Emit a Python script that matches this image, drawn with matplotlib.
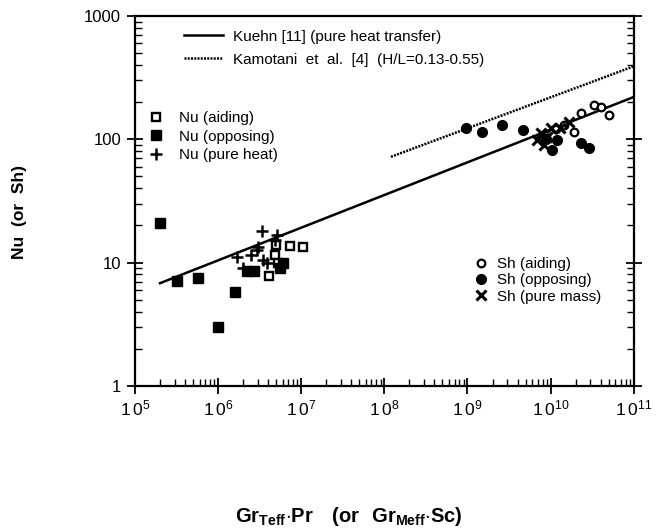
import numpy as np
import matplotlib.pyplot as plt
from matplotlib.ticker import FixedLocator, LogLocator, NullFormatter

plt.rcParams['font.family'] = ['Liberation Sans', 'DejaVu Sans']
plt.rcParams['mathtext.fontset'] = 'custom'
plt.rcParams['mathtext.rm'] = 'Liberation Sans:bold'
plt.rcParams['mathtext.sf'] = 'Liberation Sans'

# correlations (end points)
kuehn_x = [2.0e5, 1.0e11]
kuehn_y = [6.8, 220]
kamo_x = [1.2e8, 1.0e11]
kamo_y = [72, 390]

# heat transfer data
nu_aid_x = [4.1e6, 4.9e6, 5.0e6, 7.4e6, 1.05e7, 5.2e6]
nu_aid_y = [7.8, 11.5, 13.9, 13.6, 13.4, 10.0]
nu_opp_x = [2.0e5, 3.2e5, 5.7e5, 1.0e6, 1.6e6, 2.2e6, 2.7e6, 6.0e6, 5.6e6]
nu_opp_y = [21, 7.1, 7.5, 3.0, 5.8, 8.6, 8.6, 10.0, 9.1]
nu_heat_x = [3.4e6, 1.7e6, 2.95e6, 3.0e6, 3.5e6, 3.9e6, 5.1e6, 4.9e6, 2.5e6, 2.0e6]
nu_heat_y = [18, 11.1, 12.6, 13.4, 10.5, 10.0, 16.8, 15.2, 11.5, 9.1]

# mass transfer data
sh_aid_x = [3.3e10, 4.0e10, 5.0e10, 2.3e10, 1.9e10, 1.45e10, 1.15e10]
sh_aid_y = [190, 182, 158, 163, 115, 131, 120]
sh_opp_x = [9.5e8, 1.5e9, 2.6e9, 4.6e9, 1.05e10, 2.3e10, 2.9e10, 1.2e10, 8.7e9]
sh_opp_y = [124, 115, 131, 119, 82, 93, 85, 99, 100]
sh_mass_x = [6.9e9, 7.6e9, 8.3e9, 9.1e9, 1.3e10, 1.65e10, 1.0e10]
sh_mass_y = [99, 113, 90, 105, 124, 138, 124]

xt_exp = [5, 6, 7, 8, 9, 10, 11]
yt_vals = [1, 10, 100, 1000]

fig = plt.figure(figsize=(6.65, 5.30), dpi=100)
ax = fig.add_axes([0.203, 0.272, 0.750, 0.698])

l1, = ax.plot(kuehn_x, kuehn_y, color='black', lw=1.8)
l2, = ax.plot(kamo_x, kamo_y, color='black', lw=1.8, ls=(0, (0.8, 0.5)))

h_na, = ax.plot(nu_aid_x, nu_aid_y, 's', ms=6, mfc='white', mec='black', mew=1.7, ls='none')
h_no, = ax.plot(nu_opp_x, nu_opp_y, 's', ms=6.5, color='black', ls='none')
h_nh, = ax.plot(nu_heat_x, nu_heat_y, '+', ms=9, color='black', mew=1.8, ls='none')
h_sa, = ax.plot(sh_aid_x, sh_aid_y, 'o', ms=5.5, mfc='white', mec='black', mew=1.6, ls='none')
h_so, = ax.plot(sh_opp_x, sh_opp_y, 'o', ms=7, color='black', ls='none')
h_sm, = ax.plot(sh_mass_x, sh_mass_y, 'x', ms=7, color='black', mew=2.2, ls='none')

ax.set_xscale('log')
ax.set_yscale('log')
ax.set_xlim(1e5, 1e11)
ax.set_ylim(1, 1000)

ax.xaxis.set_major_locator(FixedLocator([10.0**k for k in xt_exp]))
ax.set_xticklabels([r'$\mathsf{1\,0^{%d}}$' % k for k in xt_exp], fontsize=12.5)
ax.xaxis.set_minor_locator(LogLocator(base=10, subs=np.arange(2, 10), numticks=20))
ax.xaxis.set_minor_formatter(NullFormatter())
ax.yaxis.set_major_locator(FixedLocator(yt_vals))
ax.set_yticklabels([str(v) for v in yt_vals], fontsize=12)
ax.yaxis.set_minor_locator(LogLocator(base=10, subs=np.arange(2, 10), numticks=20))
ax.yaxis.set_minor_formatter(NullFormatter())

ax.tick_params(which='major', direction='inout', length=12, width=1.3, right=True)
ax.tick_params(which='minor', direction='in', length=5, width=1.0, right=True)
ax.tick_params(axis='x', which='major', pad=3)
ax.tick_params(axis='y', which='major', pad=4)
for s in ax.spines.values():
    s.set_linewidth(1.6)

lg1 = ax.legend([l1, l2], ['Kuehn [11] (pure heat transfer)',
                           'Kamotani  et  al.  [4]  (H/L=0.13-0.55)'],
                loc='upper left', bbox_to_anchor=(0.07, 1.0), frameon=False,
                fontsize=11, handlelength=2.6, handletextpad=0.6, labelspacing=0.6)
ax.add_artist(lg1)
lg2 = ax.legend([h_na, h_no, h_nh], ['Nu (aiding)', 'Nu (opposing)', 'Nu (pure heat)'],
                loc='upper left', bbox_to_anchor=(0.0, 0.78), frameon=False,
                fontsize=11, handlelength=1.0, handletextpad=1.0, labelspacing=0.3)
ax.add_artist(lg2)
ax.legend([h_sa, h_so, h_sm], ['Sh (aiding)', 'Sh (opposing)', 'Sh (pure mass)'],
          loc='upper left', bbox_to_anchor=(0.65, 0.385), frameon=False,
          fontsize=11, handlelength=1.0, handletextpad=0.6, labelspacing=0.15)

fig.text(0.524, 0.026,
         r'$\mathrm{Gr_{Teff}{\cdot}Pr\ \ \ (or\ \ Gr_{Meff}{\cdot}Sc)}$',
         ha='center', va='center', fontsize=14.5)
fig.text(0.03, 0.6, 'Nu  (or  Sh)', rotation=90, ha='center', va='center',
         fontsize=12.5, fontweight='bold')

fig.savefig('out.png', dpi=100)
